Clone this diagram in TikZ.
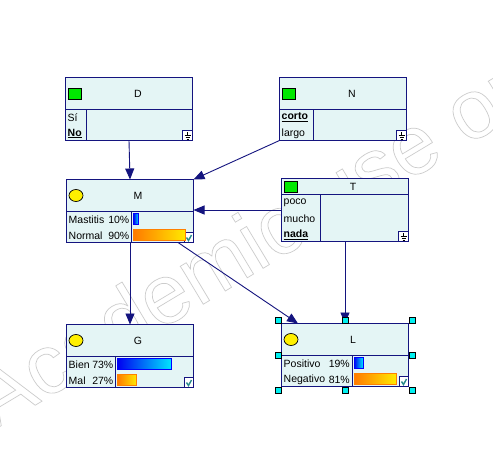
\documentclass[tikz,border=0pt]{standalone}
\usepackage{fontspec}
\setmainfont{Liberation Sans}
\usetikzlibrary{arrows.meta}
\definecolor{netnavy}{HTML}{14147F}
\definecolor{netfill}{HTML}{E4F5F5}
\definecolor{netgreen}{HTML}{00E800}
\definecolor{netyellow}{HTML}{FFF000}
\definecolor{netorange}{HTML}{FF7A00}
\definecolor{netgold}{HTML}{FFEA00}
\definecolor{netblue}{HTML}{0000F0}
\definecolor{netcyan}{HTML}{00E8FF}
\definecolor{netteal}{HTML}{2A8C8C}
\definecolor{nethandle}{HTML}{00F0F0}

\begin{document}
\begin{tikzpicture}[x=1pt, y=-1pt,
        var/.style={rectangle, draw=netnavy, fill=netfill, line width=1pt, minimum width=127pt, minimum height=63pt, inner sep=0pt, outer sep=0pt},
        lbl/.style={font=\fontsize{10.5}{12}\selectfont, inner sep=0pt},
        sep/.style={netnavy, line width=1pt},
        link/.style={netnavy, line width=0.9pt, -{Triangle[length=11pt, width=9pt]}},
        bluebar/.style={left color=netblue, right color=netcyan, draw=blue, line width=0.8pt},
        orangebar/.style={left color=netorange, right color=netgold, draw=orange, line width=0.8pt},
        handle/.style={rectangle, draw=black, fill=nethandle, line width=0.6pt, minimum size=6pt, inner sep=0pt}]
      \fill[white] (0,0) rectangle (493,458);
      \useasboundingbox (0,0) rectangle (493,458);

      % Watermark
      \node[font=\fontsize{84}{90}\selectfont, text=black!20, anchor=base west, rotate=31, inner sep=0pt] (wm) at (-6,430) {\special{pdf:literal direct 1 Tr 0.7 w}Academic use only\special{pdf:literal direct 0 Tr}};

      % Variables
      \node[var] (D) at (129,109) {};
      \node[var] (N) at (343,109) {};
      \node[var] (M) at (130,211) {};
      \node[var] (T) at (345,210) {};
      \node[var] (G) at (130,356) {};
      \node[var] (L) at (345,355) {};

      % Headers and columns
      \foreach \v/\h/\c in {D/32/20.5, N/32/34, M/32/65, T/16/38.5, G/32/49, L/32/70.5} {
        \draw[sep] ([yshift=-\h pt]\v.north west) -- ([yshift=-\h pt]\v.north east);
        \draw[sep] ([xshift=\c pt, yshift=-\h pt]\v.north west) -- ([xshift=\c pt]\v.south west);
      }
      \node[lbl] (Dt) at ([xshift=9pt, yshift=-16pt]D.north) {D};
      \node[lbl] (Nt) at ([xshift=9pt, yshift=-16pt]N.north) {N};
      \node[lbl] (Mt) at ([xshift=8pt, yshift=-16pt]M.north) {M};
      \node[lbl] (Tt) at ([xshift=8pt, yshift=-8pt]T.north) {T};
      \node[lbl] (Gt) at ([xshift=8pt, yshift=-16pt]G.north) {G};
      \node[lbl] (Lt) at ([xshift=8pt, yshift=-16pt]L.north) {L};

      % Icons
      \draw[fill=netgreen, line width=0.7pt] ([xshift=2.5pt, yshift=-10.5pt]D.north west) rectangle ++(13,11);
      \draw[fill=netgreen, line width=0.7pt] ([xshift=2.5pt, yshift=-10.5pt]N.north west) rectangle ++(13,11);
      \draw[fill=netgreen, line width=0.7pt] ([xshift=2.5pt, yshift=-2.5pt]T.north west) rectangle ++(13,11);
      \foreach \v in {M,G,L}
        \draw[fill=netyellow, line width=0.7pt] ([xshift=9.5pt, yshift=-16pt]\v.north west) ellipse [x radius=7pt, y radius=6pt];
      \foreach \v in {D,N,T} {
        \draw[netnavy, fill=white, line width=0.8pt] ([xshift=-10pt, yshift=10pt]\v.south east) rectangle (\v.south east);
        \draw[black, line width=0.6pt] ([xshift=-10pt, yshift=10pt]\v.south east) ++(5,1.5) -- ++(0,3) ++(-3,0) -- ++(6,0) ++(-5,2) -- ++(4,0) ++(-3,2) -- ++(2,0);
      }
      \foreach \v in {M,G,L} {
        \draw[netnavy, fill=white, line width=0.8pt] ([xshift=-9pt, yshift=10pt]\v.south east) rectangle (\v.south east);
        \draw[netteal, line width=1.4pt] ([xshift=-9pt, yshift=10pt]\v.south east) ++(2,5) -- ++(2,3) -- ++(3,-5.5);
      }

      % States
      \node[lbl, anchor=west] (D1) at ([xshift=2pt, yshift=-40pt]D.north west) {Sí};
      \node[lbl, anchor=west] (D2) at ([xshift=2pt, yshift=-56pt]D.north west) {\underline{\textbf{No}}};
      \node[lbl, anchor=west] (N1) at ([xshift=2pt, yshift=-40pt]N.north west) {\underline{\textbf{corto}}};
      \node[lbl, anchor=west] (N2) at ([xshift=2pt, yshift=-56pt]N.north west) {largo};
      \node[lbl, anchor=west] (T1) at ([xshift=2pt, yshift=-24pt]T.north west) {poco};
      \node[lbl, anchor=west] (T2) at ([xshift=2pt, yshift=-40pt]T.north west) {mucho};
      \node[lbl, anchor=west] (T3) at ([xshift=2pt, yshift=-56pt]T.north west) {\underline{\textbf{nada}}};

      \node[lbl, anchor=west] (M1) at ([xshift=2pt, yshift=-40pt]M.north west) {Mastitis};
      \node[lbl, anchor=east] (M1p) at ([xshift=63pt, yshift=-40pt]M.north west) {10\%};
      \node[lbl, anchor=west] (M2) at ([xshift=2pt, yshift=-56pt]M.north west) {Normal};
      \node[lbl, anchor=east] (M2p) at ([xshift=63pt, yshift=-56pt]M.north west) {90\%};
      \node[lbl, anchor=west] (G1) at ([xshift=2pt, yshift=-40pt]G.north west) {Bien};
      \node[lbl, anchor=east] (G1p) at ([xshift=47pt, yshift=-40pt]G.north west) {73\%};
      \node[lbl, anchor=west] (G2) at ([xshift=2pt, yshift=-56pt]G.north west) {Mal};
      \node[lbl, anchor=east] (G2p) at ([xshift=47pt, yshift=-56pt]G.north west) {27\%};
      \node[lbl, anchor=west] (L1) at ([xshift=2pt, yshift=-40pt]L.north west) {Positivo};
      \node[lbl, anchor=east] (L1p) at ([xshift=68.5pt, yshift=-40pt]L.north west) {19\%};
      \node[lbl, anchor=west] (L2) at ([xshift=2pt, yshift=-56pt]L.north west) {Negativo};
      \node[lbl, anchor=east] (L2p) at ([xshift=68.5pt, yshift=-56pt]L.north west) {81\%};

      % Bars
      \shadedraw[bluebar] ([xshift=67pt, yshift=-34pt]M.north west) rectangle ++(5,11);
      \shadedraw[orangebar] ([xshift=67pt, yshift=-50pt]M.north west) rectangle ++(52,11);
      \shadedraw[bluebar] ([xshift=51pt, yshift=-34pt]G.north west) rectangle ++(54,11);
      \shadedraw[orangebar] ([xshift=51pt, yshift=-50pt]G.north west) rectangle ++(19,11);
      \shadedraw[bluebar] ([xshift=72.5pt, yshift=-34pt]L.north west) rectangle ++(9,11);
      \shadedraw[orangebar] ([xshift=72.5pt, yshift=-50pt]L.north west) rectangle ++(42,11);

      % Links
      \draw[link] (D.south) -- (M.north);
      \draw[link] (N.south west) -- (M.north east);
      \draw[link] (T.west) -- (T.west -| M.east);
      \draw[link] (M.south) -- (G.north);
      \draw[link] ([xshift=-15.5pt]M.south east) -- ([xshift=16.5pt]L.north west);
      \draw[link] (T.south) -- (L.north);

      % Selection
      \foreach \a/\dx/\dy [count=\i] in {north west/-3.5/3.5, north/0/3.5, north east/3.5/3.5, west/-3.5/0, east/3.5/0, south west/-3.5/-3.5, south/0/-3.5, south east/3.5/-3.5}
        \node[handle] (h\i) at ([xshift=\dx pt, yshift=\dy pt]L.\a) {};
    \end{tikzpicture}
\end{document}
